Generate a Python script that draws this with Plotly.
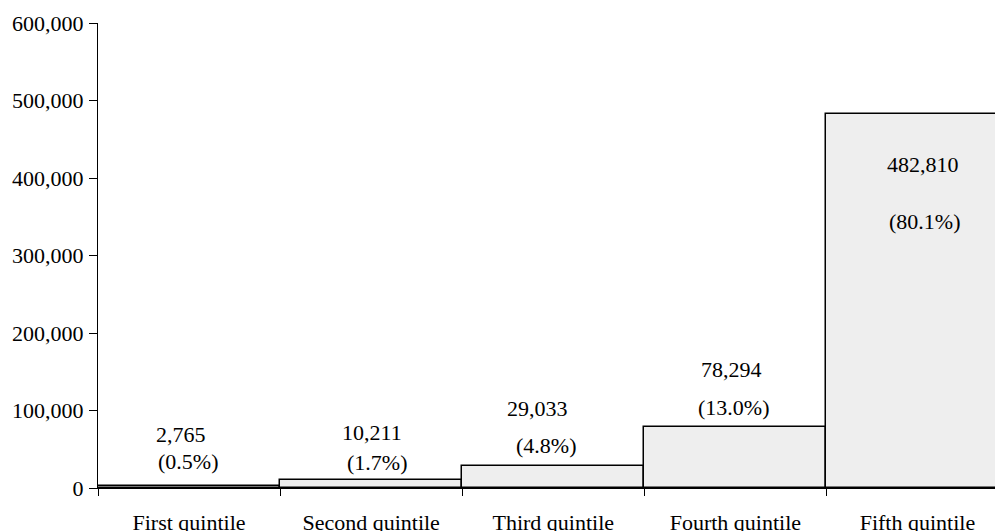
import plotly.graph_objects as go

categories = ["First quintile", "Second quintile", "Third quintile", "Fourth quintile", "Fifth quintile"]
values = [2765, 10211, 29033, 78294, 482810]
shares = ["(0.5%)", "(1.7%)", "(4.8%)", "(13.0%)", "(80.1%)"]
y_ticks = [0, 100000, 200000, 300000, 400000, 500000, 600000]

# label offsets (pixels) relative to bar top centre: (value label dx, dy), (share label dx, dy)
value_off = [(-8, 51), (1, 48), (-16, 57), (-4, 58), (6, -51)]
share_off = [(-1, 24), (6, 18), (-7, 20), (-2, 20), (7, -108)]

FONT = "Liberation Serif"
FS = 22

fig = go.Figure()
fig.add_trace(go.Bar(
    x=categories, y=values, width=1,
    marker=dict(color="#eeeeee", line=dict(color="black", width=1.5)),
    hoverinfo="skip", showlegend=False,
))

for i, (v, s) in enumerate(zip(values, shares)):
    dx, dy = value_off[i]
    fig.add_annotation(x=i, y=v, text=f"{v:,}", showarrow=False,
                       xshift=dx, yshift=dy, yanchor="middle", xanchor="center",
                       font=dict(family=FONT, size=FS, color="black"))
    dx, dy = share_off[i]
    fig.add_annotation(x=i, y=v, text=s, showarrow=False,
                       xshift=dx, yshift=dy, yanchor="middle", xanchor="center",
                       font=dict(family=FONT, size=FS, color="black"))

fig.update_layout(
    width=995, height=531,
    margin=dict(l=98, r=0, t=23, b=43, autoexpand=False),
    paper_bgcolor="white", plot_bgcolor="white",
    font=dict(family=FONT, size=FS, color="black"),
    bargap=0,
    xaxis=dict(
        type="category", range=[-0.5, 4.426], automargin=False,
        showline=True, linecolor="black", linewidth=1,
        ticks="outside", tickson="boundaries", ticklen=7, tickcolor="black",
        showgrid=False, zeroline=False, ticklabelstandoff=15,
        tickfont=dict(family=FONT, size=FS, color="black"),
    ),
    yaxis=dict(
        range=[0, 600000], tickvals=y_ticks, automargin=False,
        ticktext=[f"{t:,}" for t in y_ticks],
        showline=True, linecolor="black", linewidth=1,
        ticks="outside", ticklen=8, tickcolor="black",
        showgrid=False, zeroline=False, ticklabelstandoff=1,
        tickfont=dict(family=FONT, size=FS, color="black"),
    ),
)

fig.write_html("out.html", config={"displayModeBar": False},
               post_script="document.body.style.margin='0';document.body.style.overflow='hidden';")
